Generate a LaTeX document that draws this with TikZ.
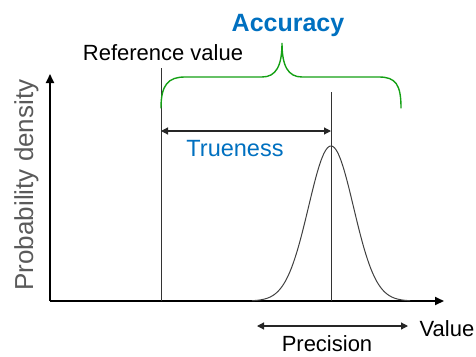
\documentclass[tikz,border=0pt]{standalone}
\usepackage{fontspec}
\setmainfont{Liberation Sans}
\usepackage{tikz}
\usetikzlibrary{arrows.meta, positioning}
\definecolor{accblue}{RGB}{0, 112, 192}
\definecolor{bracegreen}{RGB}{20, 160, 20}
\definecolor{labelgray}{RGB}{90, 90, 90}

\begin{document}
\begin{tikzpicture}[x=1pt, y=-1pt,
    axis/.style={line width=2pt, -{Triangle[length=9pt, width=8pt]}},
    marker/.style={line width=1pt, black!80},
    span/.style={line width=1.2pt, black!85, {Triangle[length=7pt, width=7pt]}-{Triangle[length=7pt, width=7pt]}},
    lbl/.style={anchor=base, inner sep=0pt, font=\fontsize{22}{24}\selectfont}]
  \useasboundingbox (0,0) rectangle (476,356);

  % axes
  \coordinate (origin) at (50,301);
  \coordinate (ytip) at (50,74);
  \coordinate (xtip) at (444,301);
  \draw[axis] (origin) -- (ytip);
  \draw[axis] (origin) -- (xtip);

  % reference and mean lines
  \coordinate (reftop) at (161,68);
  \coordinate (refbot) at (161,301);
  \coordinate (meantop) at (331,92);
  \coordinate (meanbot) at (331,301);
  \draw[marker] (reftop) -- (refbot);
  \draw[marker] (meantop) -- (meanbot);

  % distribution
  \draw[line width=1pt, black!75, line join=round]
    plot[domain=252:410, samples=120, smooth] (\x, {301 - 155*exp(-((\x-331)^2)/(2*22.5^2))});

  % trueness and precision spans
  \coordinate (trueL) at (161,131);
  \coordinate (trueR) at (331,131);
  \draw[span] (trueL) -- (trueR);
  \coordinate (precL) at (257,326);
  \coordinate (precR) at (408,326);
  \draw[span] (precL) -- (precR);

  % accuracy brace
  \coordinate (braceL) at (161,108);
  \coordinate (braceTip) at (282,43);
  \coordinate (braceR) at (401,108);
  \draw[bracegreen, line width=1.4pt, line cap=round]
    (braceL) .. controls (161,85) and (168,77) .. (185,77)
    -- (262,77) .. controls (276,77) and (282,66) .. (braceTip)
    .. controls (282,66) and (288,77) .. (302,77)
    -- (379,77) .. controls (396,77) and (401,85) .. (braceR);

  % labels
  \node (accuracy) [lbl, font=\fontsize{25}{28}\selectfont\bfseries, text=accblue] at (288,31) {Accuracy};
  \node (refvalue) [lbl] at (163,60) {Reference value};
  \node (trueness) [lbl, font=\fontsize{23.5}{26}\selectfont, text=accblue] at (235,156) {Trueness};
  \node (precision) [lbl] at (327,351) {Precision};
  \node (value) [lbl] at (447,336) {Value};
  \node (density) [lbl, font=\fontsize{26}{28}\selectfont, text=labelgray, rotate=90] at (33,185) {Probability density};

\end{tikzpicture}
\end{document}
